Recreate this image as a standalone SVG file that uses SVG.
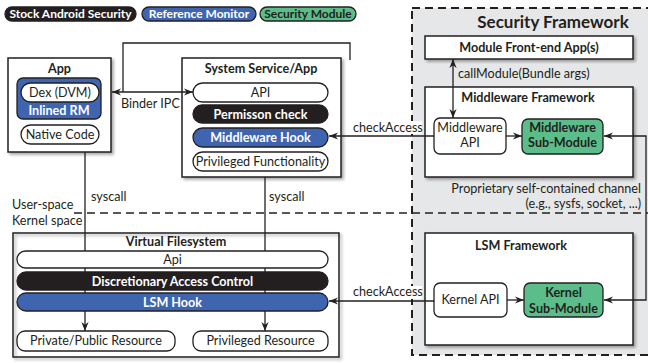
<svg xmlns="http://www.w3.org/2000/svg" width="648" height="363" viewBox="0 0 648 363">
<defs>
<style>
text{font-family:Lato,"Liberation Sans",sans-serif;font-size:12.6px;fill:#231f20}
.b{font-weight:bold}
.w{fill:#fff}
.c{text-anchor:middle}
.lg{font-size:12px}
.box{fill:#fff;stroke:#231f20;stroke-width:1.5}
.pill{fill:#fff;stroke:#231f20;stroke-width:1.3}
.blk{fill:#231f20;stroke:#231f20;stroke-width:1.3}
.blue{fill:#3f65b1;stroke:#231f20;stroke-width:1.3}
.green{fill:#5bbd8a;stroke:#231f20;stroke-width:1.3}
.ln{fill:none;stroke:#231f20;stroke-width:1.3}
.arr{marker-end:url(#ah)}
.arr2{marker-start:url(#ah);marker-end:url(#ah)}
</style>
<marker id="ah" viewBox="0 0 10 8" refX="10" refY="4" markerWidth="9" markerHeight="7.2" markerUnits="userSpaceOnUse" orient="auto-start-reverse">
<path d="M0,0 L10,4 L0,8 L3,4 Z" fill="#231f20"/>
</marker>
<filter id="sh" x="-10%" y="-10%" width="130%" height="130%">
<feDropShadow dx="2" dy="2" stdDeviation="1.5" flood-color="#000" flood-opacity="0.35"/>
</filter>
</defs>

<g id="legend">
<rect x="5" y="7" width="131" height="14" rx="7" class="blk"/>
<text x="70.5" y="18.3" class="b w c lg">Stock Android Security</text>
<rect x="142" y="7" width="114" height="14" rx="7" class="blue"/>
<text x="199" y="18.3" class="b w c lg">Reference Monitor</text>
<rect x="260" y="7" width="96" height="14" rx="7" class="green"/>
<text x="308" y="18.3" class="b c lg">Security Module</text>
</g>

<g id="security-framework">
<rect x="412" y="8" width="250" height="347" fill="#e6e7e8" stroke="#231f20" stroke-width="2" stroke-dasharray="8 5"/>
<text x="553" y="28" class="b c" style="font-size:17px">Security Framework</text>
</g>

<g id="space-divider">
<text x="12" y="209">User-space</text>
<text x="12" y="225">Kernel space</text>
<line x1="74" y1="213" x2="648" y2="213" class="ln" stroke-dasharray="8 5"/>
</g>

<g id="app">
<rect x="8" y="58" width="103" height="94" class="box" filter="url(#sh)"/>
<text x="59.5" y="73" class="b c">App</text>
<rect x="17" y="78" width="84" height="41" rx="6" class="blue"/>
<rect x="21" y="83" width="78" height="19" rx="9.5" class="pill"/>
<text x="60" y="97" class="c">Dex (DVM)</text>
<text x="59" y="115" class="b w c">Inlined RM</text>
<rect x="21" y="125" width="78" height="19" rx="9.5" class="pill"/>
<text x="60" y="139" class="c">Native Code</text>
</g>

<g id="system-service">
<rect x="182" y="58" width="159" height="119" class="box" filter="url(#sh)"/>
<text x="261" y="73" class="b c">System Service/App</text>
<rect x="193" y="83" width="135" height="19" rx="9.5" class="pill"/>
<text x="260.5" y="97" class="c">API</text>
<rect x="193" y="105" width="135" height="18" rx="9" class="blk"/>
<text x="260.5" y="118.5" class="b w c">Permisson check</text>
<rect x="193" y="128" width="135" height="19" rx="9.5" class="blue"/>
<text x="260.5" y="141.5" class="b w c">Middleware Hook</text>
<rect x="193" y="152" width="135" height="19" rx="9.5" class="pill"/>
<text x="260.5" y="166" class="c">Privileged Functionality</text>
</g>

<g id="module-frontend">
<rect x="425" y="36" width="208" height="23" class="box" filter="url(#sh)"/>
<text x="529" y="51.5" class="b c">Module Front-end App(s)</text>
</g>

<g id="middleware-framework">
<rect x="425" y="87" width="208" height="90" class="box" filter="url(#sh)"/>
<text x="528" y="102" class="b c">Middleware Framework</text>
</g>

<g id="lsm-framework">
<rect x="425" y="233" width="208" height="112" class="box" filter="url(#sh)"/>
<text x="521" y="250" class="b c">LSM Framework</text>
</g>

<g id="vfs">
<rect x="13" y="233" width="326" height="124" fill="none" stroke="#231f20" stroke-width="1.5" filter="url(#sh)"/>
<text x="176" y="246" class="b c">Virtual Filesystem</text>
</g>

<g id="connectors">
<path d="M112,92 H193" class="ln arr2"/>
<path d="M123,92 V43 H350 V60" class="ln"/>
<path d="M453,59 V118" class="ln arr2"/>
<path d="M434,136 H329" class="ln arr"/>
<path d="M434,301 H329" class="ln arr"/>
<path d="M506,136 H522" class="ln arr"/>
<path d="M507,300 H524" class="ln arr"/>
<path d="M604,136 H646 V300 H604" class="ln arr2"/>
<path d="M85,152 V331" class="ln arr"/>
<path d="M265,177 V331" class="ln arr"/>
<rect x="351" y="121" width="71" height="13" fill="#fff"/>
<text x="353" y="132">checkAccess</text>
<rect x="351" y="286" width="71" height="13" fill="#fff"/>
<text x="353" y="296">checkAccess</text>
<text x="121" y="108">Binder IPC</text>
<text x="458" y="78">callModule(Bundle args)</text>
<text x="91" y="201">syscall</text>
<text x="269" y="201">syscall</text>
<text x="641" y="193" style="text-anchor:end">Proprietary self-contained channel</text>
<text x="641" y="208" style="text-anchor:end">(e.g., sysfs, socket, ...)</text>
</g>

<g id="middleware-api">
<rect x="434" y="118" width="72" height="36" rx="6" class="pill"/>
<text x="470" y="132" class="c">Middleware</text>
<text x="470" y="147" class="c">API</text>
</g>

<g id="middleware-submodule">
<rect x="522" y="119" width="81" height="35" rx="6" class="green"/>
<text x="562.5" y="132" class="b c">Middleware</text>
<text x="562.5" y="147" class="b c">Sub-Module</text>
</g>

<g id="kernel-api">
<rect x="434" y="283" width="73" height="34" rx="6" class="pill"/>
<text x="470.5" y="304" class="c">Kernel API</text>
</g>

<g id="kernel-submodule">
<rect x="524" y="283" width="79" height="34" rx="6" class="green"/>
<text x="563.5" y="297" class="b c">Kernel</text>
<text x="563.5" y="313" class="b c">Sub-Module</text>
</g>

<g id="vfs-api">
<rect x="17" y="251" width="311" height="17" rx="8.5" class="pill"/>
<text x="172.5" y="264" class="c">Api</text>
</g>
<g id="vfs-dac">
<rect x="17" y="272" width="311" height="18" rx="9" class="blk"/>
<text x="172.5" y="285.5" class="b w c">Discretionary Access Control</text>
</g>
<g id="vfs-lsm-hook">
<rect x="17" y="293" width="311" height="18" rx="9" class="blue"/>
<text x="172.5" y="306.5" class="b w c">LSM Hook</text>
</g>
<g id="private-public-resource">
<rect x="17" y="331" width="158" height="20" rx="8" class="pill"/>
<text x="96" y="345" class="c">Private/Public Resource</text>
</g>
<g id="privileged-resource">
<rect x="193" y="331" width="135" height="20" rx="8" class="pill"/>
<text x="260.5" y="345" class="c">Privileged Resource</text>
</g>
</svg>
